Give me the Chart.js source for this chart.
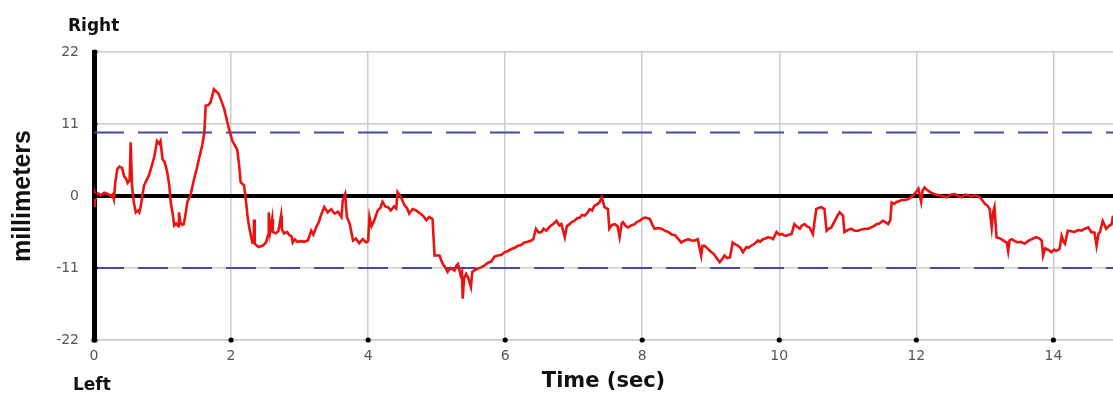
<!DOCTYPE html>
<html>
<head>
<meta charset="utf-8">
<script src="https://cdn.jsdelivr.net/npm/chart.js@4"></script>
<style>
  html, body { margin: 0; padding: 0; background: #ffffff; }
  #wrap { width: 1113px; height: 399px; }
</style>
</head>
<body>
<div id="wrap"><canvas id="c" width="1113" height="399"></canvas></div>
<script>
// ---- data ----
const timeSec = [
0.00,0.01,0.03,0.06,0.10,0.15,0.20,0.25,0.27,0.29,
0.31,0.34,0.37,0.41,0.44,0.47,0.49,0.52,0.535,0.545,
0.555,0.58,0.61,0.64,0.66,0.68,0.71,0.73,0.77,0.80,
0.84,0.88,0.92,0.95,0.97,1.00,1.03,1.07,1.10,1.12,
1.15,1.17,1.20,1.23,1.24,1.26,1.29,1.31,1.34,1.36,
1.41,1.46,1.50,1.53,1.58,1.61,1.63,1.67,1.70,1.75,
1.78,1.82,1.86,1.90,1.97,2.02,2.09,2.12,2.14,2.19,
2.22,2.24,2.26,2.31,2.33,2.335,2.345,2.40,2.46,2.51,
2.54,2.55,2.57,2.60,2.61,2.65,2.69,2.73,2.74,2.77,
2.82,2.85,2.88,2.90,2.93,2.97,3.02,3.07,3.12,3.17,
3.20,3.24,3.28,3.31,3.36,3.41,3.46,3.51,3.56,3.61,
3.63,3.665,3.69,3.73,3.78,3.82,3.87,3.92,3.97,4.00,
4.02,4.05,4.09,4.14,4.18,4.21,4.25,4.29,4.33,4.38,
4.41,4.43,4.48,4.53,4.57,4.60,4.65,4.70,4.75,4.80,
4.85,4.89,4.94,4.97,5.04,5.09,5.12,5.16,5.20,5.26,
5.29,5.31,5.35,5.37,5.38,5.40,5.43,5.46,5.50,5.52,
5.56,5.60,5.65,5.70,5.75,5.80,5.84,5.89,5.94,5.99,
6.04,6.09,6.14,6.19,6.23,6.28,6.33,6.38,6.41,6.45,
6.49,6.53,6.56,6.60,6.64,6.67,6.71,6.75,6.79,6.82,
6.87,6.90,6.94,6.97,7.01,7.05,7.09,7.12,7.16,7.20,
7.23,7.27,7.30,7.35,7.38,7.41,7.45,7.50,7.52,7.56,
7.60,7.64,7.67,7.70,7.72,7.76,7.79,7.84,7.89,7.92,
7.96,8.00,8.04,8.08,8.11,8.15,8.18,8.23,8.28,8.33,
8.38,8.43,8.48,8.52,8.57,8.62,8.67,8.72,8.77,8.81,
8.86,8.88,8.91,8.96,9.01,9.04,9.08,9.13,9.17,9.20,
9.24,9.28,9.32,9.36,9.40,9.44,9.47,9.52,9.55,9.59,
9.64,9.69,9.72,9.76,9.80,9.84,9.88,9.91,9.96,10.00,
10.04,10.07,10.10,10.14,10.18,10.22,10.26,10.30,10.33,10.37,
10.40,10.44,10.49,10.54,10.58,10.61,10.66,10.69,10.72,10.76,
10.81,10.85,10.88,10.93,10.95,11.00,11.05,11.10,11.15,11.20,
11.25,11.30,11.34,11.38,11.42,11.46,11.51,11.55,11.59,11.62,
11.64,11.68,11.71,11.75,11.78,11.83,11.88,11.92,11.95,11.99,
12.03,12.07,12.09,12.12,12.16,12.20,12.26,12.32,12.38,12.44,
12.50,12.56,12.61,12.66,12.71,12.76,12.80,12.85,12.89,12.93,
13.00,13.04,13.07,13.10,13.12,13.14,13.17,13.20,13.24,13.28,
13.32,13.34,13.36,13.39,13.44,13.48,13.53,13.58,13.63,13.68,
13.75,13.80,13.83,13.85,13.88,13.90,13.94,13.97,14.01,14.04,
14.09,14.12,14.15,14.17,14.21,14.26,14.31,14.36,14.41,14.46,
14.51,14.55,14.60,14.63,14.66,14.68,14.72,14.75,14.77,14.81,
14.85,14.87
];
const positionMm = [
-1.5,0.5,-0.3,0.4,0.1,0.5,0.3,0.0,0.2,-0.5,
2.0,4.1,4.5,4.3,3.0,2.6,2.0,2.4,8.2,5.0,
1.5,-0.9,-2.5,-2.2,-2.5,-1.7,0.3,1.6,2.5,3.1,
4.5,6.0,8.4,8.0,8.4,5.6,5.2,3.6,1.5,-1.0,
-2.8,-4.5,-4.2,-4.6,-2.5,-4.0,-4.4,-4.3,-2.5,-1.0,
0.2,2.6,4.2,5.6,7.8,9.7,13.8,13.9,14.3,16.3,
16.0,15.6,14.5,13.3,10.2,8.4,7.1,4.5,2.1,1.6,
-1.0,-3.0,-4.5,-7.1,-7.0,-3.6,-7.3,-7.8,-7.6,-7.1,
-6.0,-2.5,-5.5,-3.5,-5.5,-5.7,-5.4,-3.0,-5.0,-5.7,
-5.5,-6.0,-6.1,-7.1,-6.6,-7.0,-6.9,-7.0,-6.8,-5.3,
-5.9,-4.8,-4.0,-3.0,-1.7,-2.5,-2.0,-2.7,-2.4,-3.2,
-0.7,0.3,-3.2,-4.2,-6.8,-6.5,-7.2,-6.6,-7.1,-6.9,
-3.2,-4.6,-3.7,-2.2,-1.8,-0.9,-1.6,-1.7,-2.2,-1.6,
-1.9,0.6,-0.2,-1.4,-1.9,-2.7,-2.0,-2.2,-2.6,-3.0,
-3.7,-3.2,-3.5,-9.1,-9.1,-10.4,-10.8,-11.6,-11.0,-11.4,
-10.6,-10.4,-12.1,-11.6,-15.7,-12.6,-11.9,-12.5,-13.9,-11.6,
-11.3,-11.1,-10.9,-10.6,-10.2,-10.0,-9.3,-9.1,-9.0,-8.6,
-8.4,-8.1,-7.9,-7.6,-7.5,-7.1,-7.0,-6.8,-6.6,-5.0,
-5.6,-5.5,-5.0,-5.3,-4.8,-4.5,-4.2,-3.8,-4.5,-4.3,
-6.3,-4.6,-4.3,-4.0,-3.8,-3.4,-3.3,-2.9,-3.0,-2.6,
-2.0,-2.2,-1.5,-1.2,-0.9,-0.2,-1.7,-2.0,-5.0,-4.4,
-4.3,-4.6,-6.3,-4.2,-4.0,-4.6,-4.8,-4.5,-4.3,-4.0,
-3.8,-3.5,-3.3,-3.4,-3.5,-4.4,-5.0,-4.9,-5.0,-5.3,
-5.5,-5.9,-6.0,-6.5,-7.1,-6.8,-6.6,-6.8,-6.8,-6.6,
-9.1,-7.6,-7.6,-8.1,-8.6,-8.8,-9.4,-10.1,-9.6,-9.1,
-9.5,-9.4,-7.1,-7.4,-7.6,-8.0,-8.6,-7.8,-7.9,-7.6,
-7.3,-6.8,-7.0,-6.6,-6.5,-6.3,-6.4,-6.6,-5.5,-5.9,
-5.8,-6.0,-6.1,-5.9,-5.8,-4.3,-4.7,-5.0,-4.5,-4.3,
-4.6,-4.8,-5.8,-2.0,-1.8,-1.7,-2.0,-5.3,-5.0,-4.8,
-3.8,-3.0,-2.5,-3.0,-5.5,-5.2,-5.0,-5.3,-5.3,-5.1,
-5.0,-5.0,-4.8,-4.6,-4.3,-4.2,-3.8,-4.0,-4.3,-3.7,
-1.0,-1.2,-0.9,-0.8,-0.6,-0.6,-0.5,-0.2,0.1,0.5,
1.1,-0.9,0.8,1.3,0.9,0.6,0.3,0.1,0.0,-0.2,
0.2,0.3,0.0,-0.2,0.2,0.1,-0.1,0.1,0.0,-0.2,
-1.2,-1.5,-2.0,-4.8,-2.5,-1.7,-6.3,-6.4,-6.6,-6.9,
-7.1,-8.4,-6.8,-6.6,-6.9,-7.1,-7.0,-7.3,-6.9,-6.6,
-6.3,-6.5,-6.8,-9.1,-8.0,-8.1,-8.3,-8.6,-8.2,-8.4,
-8.1,-6.1,-7.0,-7.3,-5.3,-5.4,-5.5,-5.2,-5.3,-5.0,
-4.8,-5.5,-5.6,-7.6,-5.7,-5.5,-3.8,-4.5,-5.0,-4.6,
-4.3,-3.0
];
const xTickValues = [0, 2, 4, 6, 8, 10, 12, 14];
const yTickValues = [-22, -11, 0, 11, 22];
const thresholdsMm = [9.7, -11];
const timeRange = [0, 14.87];
const yRange = [-22, 22];
const xTitle = 'Time (sec)';
const yTitle = 'millimeters';
const topLabel = 'Right';
const bottomLabel = 'Left';

// ---- chart ----
const tracePoints = timeSec.map((t, i) => ({ x: t, y: positionMm[i] }));
const thresholdSets = thresholdsMm.map(v => ({
  data: [{ x: timeRange[0], y: v }, { x: timeRange[1], y: v }],
  borderColor: 'rgb(72,72,168)',
  borderWidth: 2,
  borderDash: [30, 14],
  pointRadius: 0,
  order: 2
}));

const dotsAndLabels = {
  id: 'dotsAndLabels',
  afterDraw(chart) {
    const { ctx, chartArea, scales } = chart;
    ctx.save();
    ctx.fillStyle = '#000';
    yTickValues.forEach(v => {
      const y = scales.y.getPixelForValue(v);
      ctx.beginPath(); ctx.arc(chartArea.left + 1, y, 2.6, 0, Math.PI * 2); ctx.fill();
    });
    xTickValues.forEach(v => {
      const x = scales.x.getPixelForValue(v);
      ctx.beginPath(); ctx.arc(x, chartArea.bottom, 2.6, 0, Math.PI * 2); ctx.fill();
    });
    ctx.fillStyle = '#111';
    ctx.font = 'bold 17px "DejaVu Sans"';
    ctx.textAlign = 'left';
    ctx.textBaseline = 'alphabetic';
    ctx.fillText(topLabel, chartArea.left - 26, chartArea.top - 21);
    ctx.fillText(bottomLabel, chartArea.left - 21, chartArea.bottom + 50);
    ctx.restore();
  }
};

new Chart(document.getElementById('c'), {
  type: 'line',
  data: {
    datasets: [
      {
        data: tracePoints,
        borderColor: 'rgb(236,18,18)',
        borderWidth: 2.6,
        pointRadius: 0,
        tension: 0,
        order: 1
      },
      ...thresholdSets
    ]
  },
  options: {
    responsive: false,
    animation: false,
    events: [],
    layout: { padding: { top: 52, right: 0, bottom: 0, left: 0 } },
    plugins: { legend: { display: false }, tooltip: { enabled: false }, title: { display: false } },
    scales: {
      x: {
        type: 'linear',
        min: timeRange[0],
        max: timeRange[1],
        afterBuildTicks: s => { s.ticks = xTickValues.map(v => ({ value: v })); },
        afterFit: s => { s.height = 59; },
        grid: { color: '#cccccc', lineWidth: 1.5, drawTicks: false },
        border: { color: '#cccccc', width: 1.5 },
        ticks: { color: '#555', font: { family: 'DejaVu Sans', size: 14 }, padding: 8, maxRotation: 0 },
        title: { display: true, text: xTitle, color: '#111', font: { family: 'DejaVu Sans', size: 21, weight: 'bold' }, padding: { top: 0, bottom: 5 } }
      },
      y: {
        type: 'linear',
        min: yRange[0],
        max: yRange[1],
        afterBuildTicks: s => { s.ticks = yTickValues.map(v => ({ value: v })); },
        afterFit: s => { s.width = 94; },
        grid: {
          color: c => (c.tick && c.tick.value === 0) ? '#000' : '#cccccc',
          lineWidth: c => (c.tick && c.tick.value === 0) ? 4 : 1.5,
          drawTicks: false
        },
        border: { color: '#000', width: 5 },
        ticks: { color: '#555', font: { family: 'DejaVu Sans', size: 14 }, padding: 15 },
        title: { display: true, text: yTitle, color: '#111', font: { family: 'Liberation Sans', size: 25, weight: 'bold' }, padding: { top: 8, bottom: 0 } }
      }
    }
  },
  plugins: [dotsAndLabels]
});
</script>
</body>
</html>
